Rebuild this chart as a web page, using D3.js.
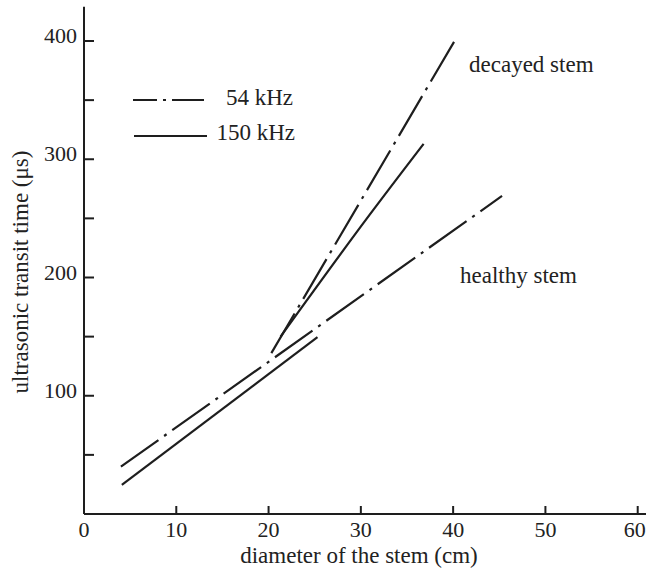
<!DOCTYPE html>
<html>
<head>
<meta charset="utf-8">
<script src="https://cdn.jsdelivr.net/npm/d3@7"></script>
<style>
  html, body { margin: 0; padding: 0; background: #fff; }
  svg { display: block; }
  text { font-family: "Liberation Serif", "Times New Roman", serif; fill: #222; }
</style>
</head>
<body>
<svg id="chart" width="647" height="568"></svg>
<script>
// ---- data ----
const xTicks = [10, 20, 30, 40, 50, 60];
const xTickLabels = ["0", "10", "20", "30", "40", "50", "60"];
const xLabelValues = [0, 10, 20, 30, 40, 50, 60];
const yTicks = [50, 100, 150, 200, 250, 300, 350, 400];
const yLabelValues = [100, 200, 300, 400];

const healthy54 = [[4.0, 40], [45.3, 269]];
const healthy150 = [[4.1, 24.6], [25.3, 149.6]];
const decayed54 = [[20.3, 136], [40.3, 402]];
const decayed150 = [[21.3, 150], [30.9, 252.5], [36.8, 313]];

const legendItems = ["54 kHz", "150 kHz"];
const curveLabels = ["decayed stem", "healthy stem"];
const xTitle = "diameter of the stem (cm)";
const yTitle = "ultrasonic transit time (\u03bcs)";

// ---- layout ----
const svg = d3.select("#chart");
const x = d3.scaleLinear().domain([0, 60]).range([84, 637.7]);
const y = d3.scaleLinear().domain([0, 400]).range([514, 41]);
const ink = "#1e1e1e";

// axes lines
svg.append("line").attr("x1", x(0)).attr("x2", x(60.9)).attr("y1", y(0)).attr("y2", y(0))
  .attr("stroke", ink).attr("stroke-width", 2);
svg.append("line").attr("x1", x(0)).attr("x2", x(0)).attr("y1", y(0)).attr("y2", y(429))
  .attr("stroke", ink).attr("stroke-width", 2);

// x ticks (inward, upward)
svg.selectAll(".xt").data(xTicks).enter().append("line")
  .attr("x1", d => x(d)).attr("x2", d => x(d))
  .attr("y1", y(0)).attr("y2", y(0) - 8)
  .attr("stroke", ink).attr("stroke-width", 2);
svg.selectAll(".xl").data(xLabelValues).enter().append("text")
  .attr("x", d => x(d) - (d === 60 ? 3 : 0)).attr("y", 537)
  .attr("text-anchor", "middle").attr("font-size", 22)
  .text((d, i) => xTickLabels[i]);

// y ticks (inward, rightward)
svg.selectAll(".yt").data(yTicks).enter().append("line")
  .attr("x1", x(0)).attr("x2", x(0) + 10)
  .attr("y1", d => y(d)).attr("y2", d => y(d))
  .attr("stroke", ink).attr("stroke-width", 2);
svg.selectAll(".yl").data(yLabelValues).enter().append("text")
  .attr("x", 77).attr("y", d => y(d) + 2)
  .attr("text-anchor", "end").attr("font-size", 22)
  .text(d => d);

// axis titles
svg.append("text").attr("x", 359).attr("y", 563)
  .attr("text-anchor", "middle").attr("font-size", 23).text(xTitle);
svg.append("text").attr("transform", "translate(28,272) rotate(-90)")
  .attr("text-anchor", "middle").attr("font-size", 23).text(yTitle);

// data lines
const line = d3.line().x(d => x(d[0])).y(d => y(d[1])).curve(d3.curveMonotoneX);
const dashDot = "46,7,3,7";
[[healthy54, dashDot], [decayed54, dashDot], [healthy150, null], [decayed150, null]].forEach(([data, dash]) => {
  const p = svg.append("path").datum(data).attr("d", line)
    .attr("fill", "none").attr("stroke", ink).attr("stroke-width", 2.2);
  if (dash) p.attr("stroke-dasharray", dash);
});

// legend
svg.append("line").attr("x1", 133).attr("x2", 204).attr("y1", 100).attr("y2", 100)
  .attr("stroke", ink).attr("stroke-width", 2).attr("stroke-dasharray", "24,6,3,6,40");
svg.append("line").attr("x1", 134).attr("x2", 207).attr("y1", 136).attr("y2", 136)
  .attr("stroke", ink).attr("stroke-width", 2);
svg.append("text").attr("x", 226).attr("y", 105).attr("font-size", 23).text(legendItems[0]);
svg.append("text").attr("x", 216.5).attr("y", 140).attr("font-size", 23).text(legendItems[1]);

// curve labels
svg.append("text").attr("x", 469).attr("y", 72).attr("font-size", 23).text(curveLabels[0]);
svg.append("text").attr("x", 460).attr("y", 283).attr("font-size", 23).text(curveLabels[1]);
</script>
</body>
</html>
